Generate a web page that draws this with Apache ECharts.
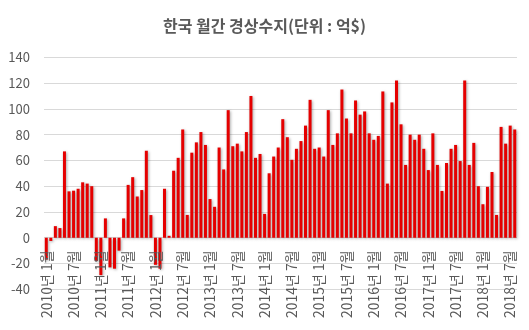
<!DOCTYPE html>
<html>
<head>
<meta charset="utf-8">
<script src="https://cdn.jsdelivr.net/npm/echarts@6/dist/echarts.min.js"></script>
<style>
html,body{margin:0;padding:0;background:#fff;}
#chart{width:529px;height:330px;}
</style>
</head>
<body>
<div id="chart"></div>
<script>
var titleText = '한국 월간 경상수지(단위 : 억$)';
var startYear = 2010;
var monthCount = 104;
var yTicks = [-40, -20, 0, 20, 40, 60, 80, 100, 120, 140];

var values2010 = [-17, -2.5, 9, 7.5, 67, 36, 36.5, 38, 43, 42, 40, -18];
var values2011 = [-29, 15, -23, -24, -10, 15, 41, 47, 32, 37, 67.5, 17.6];
var values2012 = [-21, -24, 38, 1.5, 52, 62, 84, 17.7, 66, 74, 82, 72];
var values2013 = [30, 24, 70, 53, 99, 71, 73, 67, 82, 110, 62, 65];
var values2014 = [18.5, 50, 63, 70, 92, 78, 60.5, 69, 75, 87, 107, 69];
var values2015 = [70, 63, 99, 72, 81, 115, 92.5, 81, 106.5, 95.5, 98, 81];
var values2016 = [76, 79, 113.5, 42, 105, 122, 88, 56.5, 80, 76, 80, 69];
var values2017 = [52.5, 81, 56.5, 36.3, 58, 69, 72, 59.5, 122, 56.5, 73.6, 40];
var values2018 = [26, 39.5, 51, 17.7, 86, 73, 87, 84];

var values = [].concat(values2010, values2011, values2012, values2013, values2014,
                       values2015, values2016, values2017, values2018);

var categories = [];
for (var i = 0; i < monthCount; i++) {
  var y = startYear + Math.floor(i / 12);
  var m = (i % 12) + 1;
  categories.push(y + '년 ' + m + '월');
}

var chart = echarts.init(document.getElementById('chart'));
var font = '"Noto Sans CJK KR", "Noto Sans", sans-serif';
chart.setOption({
  animation: false,
  backgroundColor: '#ffffff',
  title: {
    text: titleText,
    left: 'center',
    top: 13,
    textStyle: {fontFamily: font, fontSize: 16, fontWeight: 'bold', color: '#595959'}
  },
  grid: {left: 44, right: 12, top: 57.3, bottom: 40.7, containLabel: false, outerBoundsMode: 'none'},
  xAxis: {
    type: 'category',
    data: categories,
    z: 10,
    axisLine: {show: false, onZero: false},
    axisTick: {show: false},
    axisLabel: {
      interval: 5,
      rotate: 90,
      margin: -39,
      fontFamily: font,
      fontSize: 14,
      color: '#595959'
    },
    splitLine: {show: false}
  },
  yAxis: {
    type: 'value',
    min: yTicks[0],
    max: yTicks[yTicks.length - 1],
    interval: 20,
    axisLine: {show: false},
    axisTick: {show: false},
    axisLabel: {fontFamily: font, fontSize: 13, color: '#595959', margin: 14},
    splitLine: {lineStyle: {color: '#d9d9d9', width: 1}}
  },
  series: [{
    type: 'bar',
    data: values,
    barWidth: 3,
    itemStyle: {
      color: '#e50000',
      shadowBlur: 3,
      shadowColor: 'rgba(0,0,0,0.35)',
      shadowOffsetX: 1,
      shadowOffsetY: 1
    }
  }]
});
</script>
</body>
</html>
